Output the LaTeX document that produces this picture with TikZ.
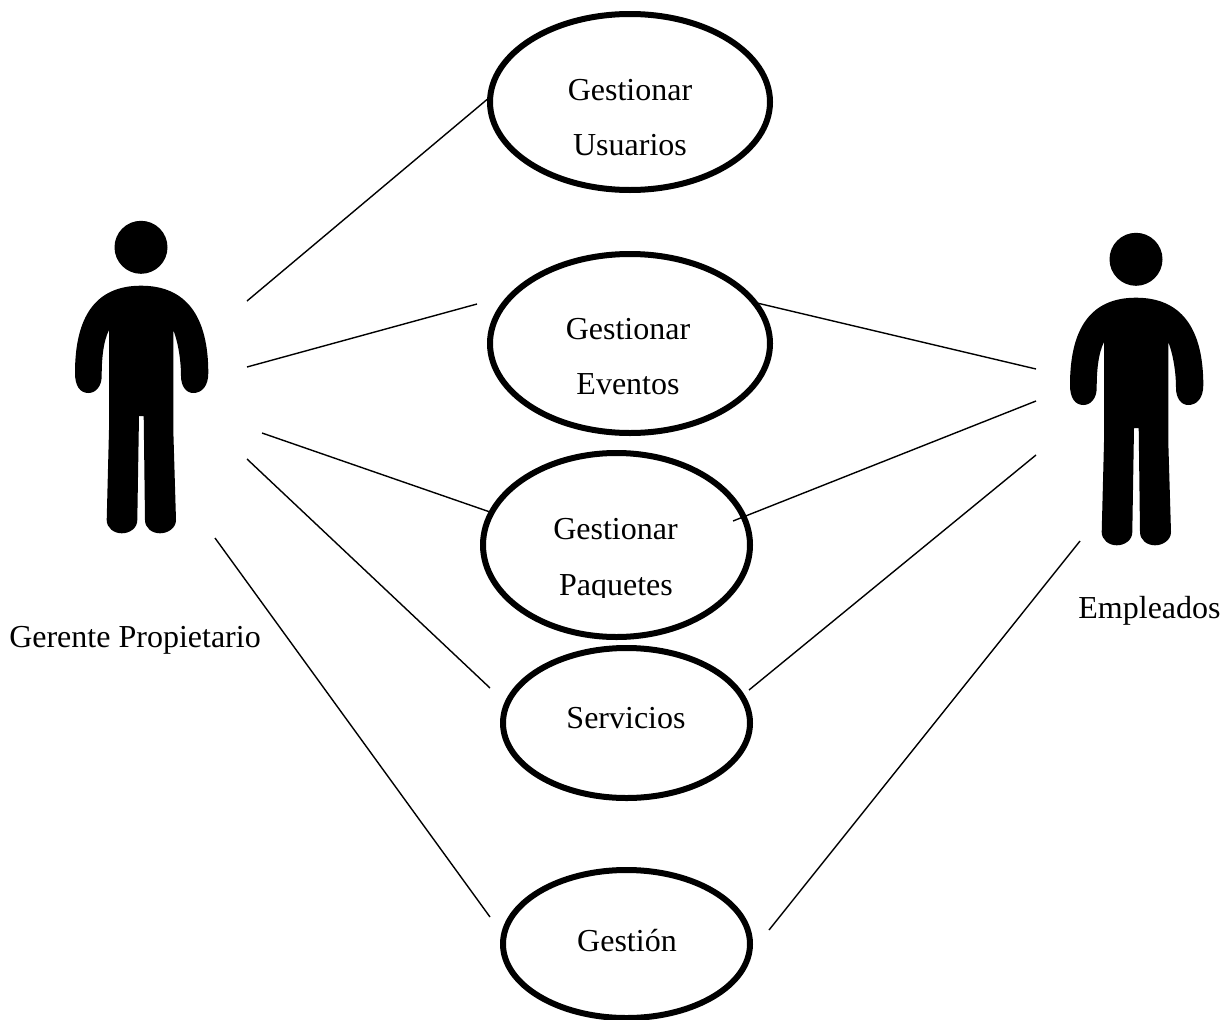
\documentclass[tikz,border=0pt]{standalone}
\usepackage{fontspec}
\setmainfont{Liberation Serif}
\usetikzlibrary{shapes.geometric}
\tikzset{
  usecase/.style={ellipse,draw=black,line width=6pt,fill=white,inner sep=0pt,minimum width=#1},
  conn/.style={draw=black,line width=1.4pt},
  lab/.style={anchor=base,inner sep=0pt,font=\fontsize{32}{36}\selectfont,text=black},
  person/.pic={
    \fill[black] (141,247.3) circle[radius=26.5];
    \fill[black] (141,285.7)
      .. controls (96,285.7) and (75,316) .. (75,373)
      .. controls (75,386) and (80,393) .. (88.5,393)
      .. controls (96,393) and (101.7,386) .. (101.7,376)
      .. controls (101.7,360) and (103,342) .. (109,330)
      -- (109,430) -- (106.7,520)
      .. controls (106.7,528) and (114,533.3) .. (121.7,533.3)
      .. controls (130,533.3) and (137.3,528) .. (137.3,520)
      -- (139,416) -- (143.7,416) -- (145,520)
      .. controls (145,528) and (152,533.3) .. (160,533.3)
      .. controls (168,533.3) and (176,528) .. (176,520)
      -- (173.3,430) -- (173.3,330)
      .. controls (178,342) and (181,360) .. (181,376)
      .. controls (181,386) and (186,393) .. (193.3,393)
      .. controls (202,393) and (208.3,386) .. (208.3,373)
      .. controls (208.3,316) and (186,285.7) .. (141,285.7) -- cycle;
  }
}
\begin{document}
\begin{tikzpicture}[x=1pt,y=-1pt]
\useasboundingbox (0,0) rectangle (1232,1020);
% actors
\pic (gerente) at (0,0) {person};
\pic (empleados) at (995,12) {person};
\node[lab] (lg) at (135,647) {Gerente Propietario};
\node[lab] (le) at (1149.5,618) {Empleados};
% use cases
\node[usecase=280pt,minimum height=176pt] (e1) at (630,102) {};
\node[usecase=280pt,minimum height=179pt] (e2) at (630,343.5) {};
\node[usecase=267pt,minimum height=184pt] (e3) at (616.5,545) {};
\node[usecase=247pt,minimum height=150pt] (e4) at (626.5,723) {};
\node[usecase=247pt,minimum height=148pt] (e5) at (626.5,944) {};
% labels
\node[lab] (t1a) at (630,100) {Gestionar};
\node[lab] (t1b) at (630,155) {Usuarios};
\node[lab] (t2a) at (628,339) {Gestionar};
\node[lab] (t2b) at (628,394) {Eventos};
\node[lab] (t3a) at (615.5,539) {Gestionar};
\begin{scope}
  \clip (500,560) rectangle (740,597);
  \node[lab] (t3b) at (616,595) {Paquetes};
\end{scope}
\node[lab] (t4) at (626,728) {Servicios};
\node[lab] (t5) at (627,951) {Gestión};
% free ends next to the actors and on the ellipses
\coordinate (g1) at (247,301); \coordinate (a1) at (490,97);
\coordinate (g2) at (247,367); \coordinate (a2) at (477,304);
\coordinate (g3) at (262,433); \coordinate (a3) at (490,512);
\coordinate (g4) at (247,459); \coordinate (a4) at (490,688);
\coordinate (g5) at (215,538); \coordinate (a5) at (490,917);
\coordinate (m1) at (1036,369); \coordinate (b1) at (757,303);
\coordinate (m2) at (1036,401); \coordinate (b2) at (733,521);
\coordinate (m3) at (1036,455); \coordinate (b3) at (749,690);
\coordinate (m4) at (1080,541); \coordinate (b4) at (769,930);
\draw[conn] (g1) -- (a1);
\draw[conn] (g2) -- (a2);
\draw[conn] (g3) -- (a3);
\draw[conn] (g4) -- (a4);
\draw[conn] (g5) -- (a5);
\draw[conn] (m1) -- (b1);
\draw[conn] (m2) -- (b2);
\draw[conn] (m3) -- (b3);
\draw[conn] (m4) -- (b4);
\end{tikzpicture}
\end{document}
